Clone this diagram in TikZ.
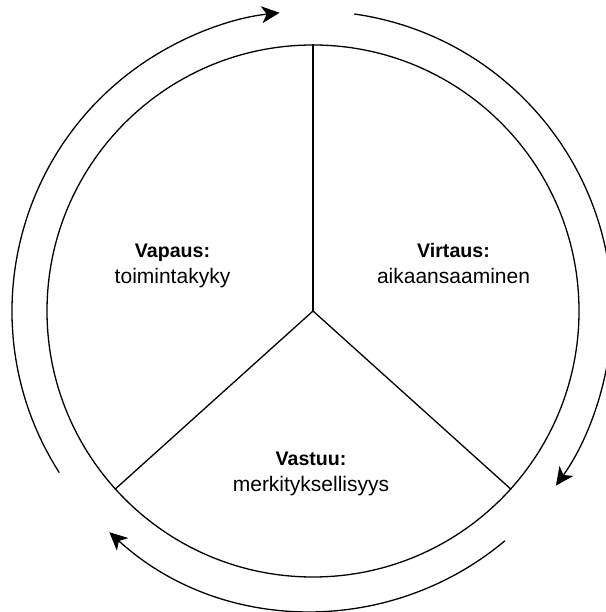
\documentclass[tikz,border=0pt]{standalone}
\usepackage{fontspec}
\setmainfont{Liberation Sans}
\usetikzlibrary{arrows.meta}
\begin{document}
\begin{tikzpicture}[x=1pt,y=1pt, line width=1.3pt,
  ring/.style={draw, circle, minimum size=532pt, inner sep=0pt},
  flow/.style={-{Stealth[length=18pt,width=17pt,inset=5pt]}},
  ttl/.style={anchor=base, inner sep=0pt, font=\fontsize{19.6}{24}\selectfont\bfseries},
  sub/.style={anchor=base, inner sep=0pt, font=\fontsize{21}{26}\selectfont}]
\useasboundingbox (0,0) rectangle (605,612);
\node[ring] (c) at (313,301) {};
\coordinate (o) at (312,301);
\draw (c.center) -- (c.90);
\draw (c.center) -- (c.222);
\draw (c.center) -- (c.318);
% outer flow arcs
\draw[flow] ([shift={(212.6:300)}]o) arc[start angle=212.6, end angle=96.2, radius=300];
\draw[flow] ([shift={(81.9:300)}]o) arc[start angle=81.9, end angle=-35.6, radius=300];
\draw[flow] ([shift={(-50:300)}]o) arc[start angle=-50, end angle=-132.5, radius=300];
% labels
\node[ttl] (vapT) at (172.5,354) {Vapaus:};
\node[sub] (vapS) at (172.5,328) {toimintakyky};
\node[ttl] (virT) at (453.5,354) {Virtaus:};
\node[sub] (virS) at (453.5,328) {aikaansaaminen};
\node[ttl] (vasT) at (311,146) {Vastuu:};
\node[sub] (vasS) at (311,120) {merkityksellisyys};
\end{tikzpicture}
\end{document}
